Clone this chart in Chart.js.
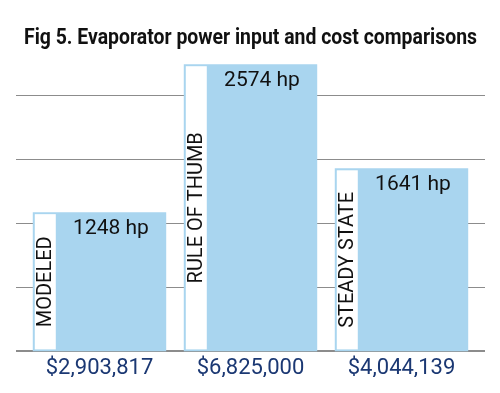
<!DOCTYPE html>
<html>
<head>
<meta charset="utf-8">
<script src="https://cdn.jsdelivr.net/npm/chart.js@4"></script>
<style>
  html, body { margin: 0; padding: 0; background: #ffffff; }
  #wrap { width: 500px; height: 393px; position: relative; }
</style>
</head>
<body>
<div id="wrap"><canvas id="chart"></canvas></div>
<script>
// ----------------------------------------------------------
// Data
// ----------------------------------------------------------
const categories = ["MODELED", "RULE OF THUMB", "STEADY STATE"];
const powerHp = [1248, 2574, 1641];
const costLabels = ["$2,903,817", "$6,825,000", "$4,044,139"];
const gridValues = [0, 575, 1150, 1725, 2300];

const BAR_BLUE = "#a9d5ef";
const NAVY = "#1b3873";
const GRID = "#8c8c8c";

// grid lines that run a little past the plot on both sides
const gridPlugin = {
  id: "gridLines",
  beforeDatasetsDraw(chart) {
    const { ctx, chartArea, scales } = chart;
    ctx.save();
    gridValues.forEach(v => {
      const y = Math.round(scales.y.getPixelForValue(v));
      ctx.beginPath();
      ctx.strokeStyle = GRID;
      ctx.lineWidth = v === 0 ? 2 : 1;
      ctx.moveTo(chartArea.left - 8, y + (v === 0 ? 0 : 0.5));
      ctx.lineTo(chartArea.right + 8, y + (v === 0 ? 0 : 0.5));
      ctx.stroke();
    });
    ctx.restore();
  }
};

// white side panel with rotated category name + value label
const panelPlugin = {
  id: "barPanels",
  afterDatasetsDraw(chart) {
    const { ctx } = chart;
    const meta = chart.getDatasetMeta(0);
    ctx.save();
    meta.data.forEach((bar, i) => {
      const left = bar.x - bar.width / 2;
      const right = bar.x + bar.width / 2;
      const top = bar.y;
      const bottom = bar.base;
      const inset = 2;
      const panelW = 21;

      ctx.fillStyle = "#ffffff";
      ctx.fillRect(left + inset, top + inset, panelW, bottom - top - inset * 2);

      // rotated category text
      ctx.save();
      ctx.translate(left + inset + panelW / 2, (top + bottom) / 2);
      ctx.rotate(-Math.PI / 2);
      ctx.fillStyle = "#111111";
      ctx.font = "20px Roboto";
      ctx.textAlign = "center";
      ctx.textBaseline = "middle";
      ctx.fillText(categories[i], 0, 1);
      ctx.restore();

      // value label centered on the blue part
      const blueLeft = left + inset + panelW;
      ctx.fillStyle = "#111111";
      ctx.font = "21px Roboto";
      ctx.textAlign = "center";
      ctx.textBaseline = "top";
      ctx.fillText(powerHp[i] + " hp", (blueLeft + right) / 2, top + 6);
    });
    ctx.restore();
  }
};

new Chart(document.getElementById("chart"), {
  type: "bar",
  data: {
    labels: costLabels,
    datasets: [
      {
        data: powerHp,
        backgroundColor: BAR_BLUE,
        borderWidth: 0,
        barPercentage: 0.94,
        categoryPercentage: 0.94
      }
    ]
  },
  options: {
    responsive: true,
    maintainAspectRatio: false,
    animation: false,
    layout: { padding: { left: 24, right: 23, top: 0, bottom: 16 } },
    plugins: {
      legend: { display: false },
      tooltip: { enabled: false },
      title: {
        display: true,
        text: "Fig 5. Evaporator power input and cost comparisons",
        color: "#111111",
        font: { family: "Roboto", size: 21.5, weight: "bold" },
        padding: { top: 26, bottom: 9.5 }
      }
    },
    scales: {
      x: {
        grid: { display: false },
        border: { display: false },
        ticks: {
          color: NAVY,
          padding: 0,
          font: { family: "Roboto", size: 22, lineHeight: 0.8 }
        }
      },
      y: {
        display: false,
        min: 0,
        max: 2600
      }
    }
  },
  plugins: [gridPlugin, panelPlugin]
});
</script>
</body>
</html>
